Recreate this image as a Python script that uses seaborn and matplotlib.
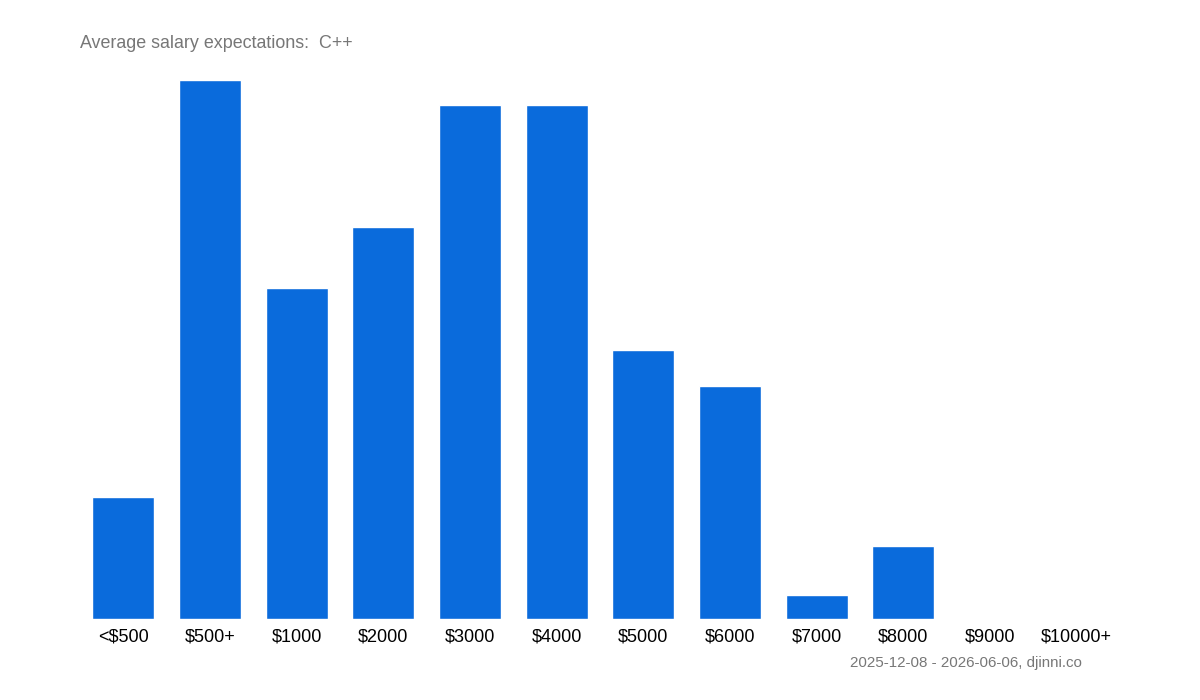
import matplotlib
matplotlib.use("Agg")
import matplotlib.pyplot as plt
import seaborn as sns

# Salary buckets and candidate counts
buckets = ['<$500', '$500+', '$1000', '$2000', '$3000', '$4000',
           '$5000', '$6000', '$7000', '$8000', '$9000', '$10000+']
counts = [10, 44, 27, 32, 42, 42, 22, 19, 2, 6, 0, 0]

sns.set_theme(style="white")
plt.rcParams['font.family'] = ['Liberation Sans', 'DejaVu Sans']

fig = plt.figure(figsize=(12, 7), dpi=100)
ax = fig.add_axes([80 / 1200, 81 / 700, 1040 / 1200, 539 / 700])

sns.barplot(x=buckets, y=counts, color='#0a6bdc', saturation=1,
            width=0.715, ax=ax)

ax.set_ylim(0, max(counts))
ax.set_xlim(-0.5, len(buckets) - 0.5)
ax.set_yticks([])
ax.set_xlabel('')
ax.set_ylabel('')
ax.tick_params(axis='x', length=0, labelsize=13, colors='black', pad=7)
sns.despine(ax=ax, left=True, bottom=True)

fig.text(80 / 1200, 1 - 44 / 700, 'Average salary expectations:  C++',
         fontsize=12.9, color='#777777', va='center', ha='left')
fig.text(1082 / 1200, 1 - 663 / 700, '2025-12-08 - 2026-06-06, djinni.co',
         fontsize=10.9, color='#777777', va='center', ha='right')

fig.savefig('out.png', dpi=100)
